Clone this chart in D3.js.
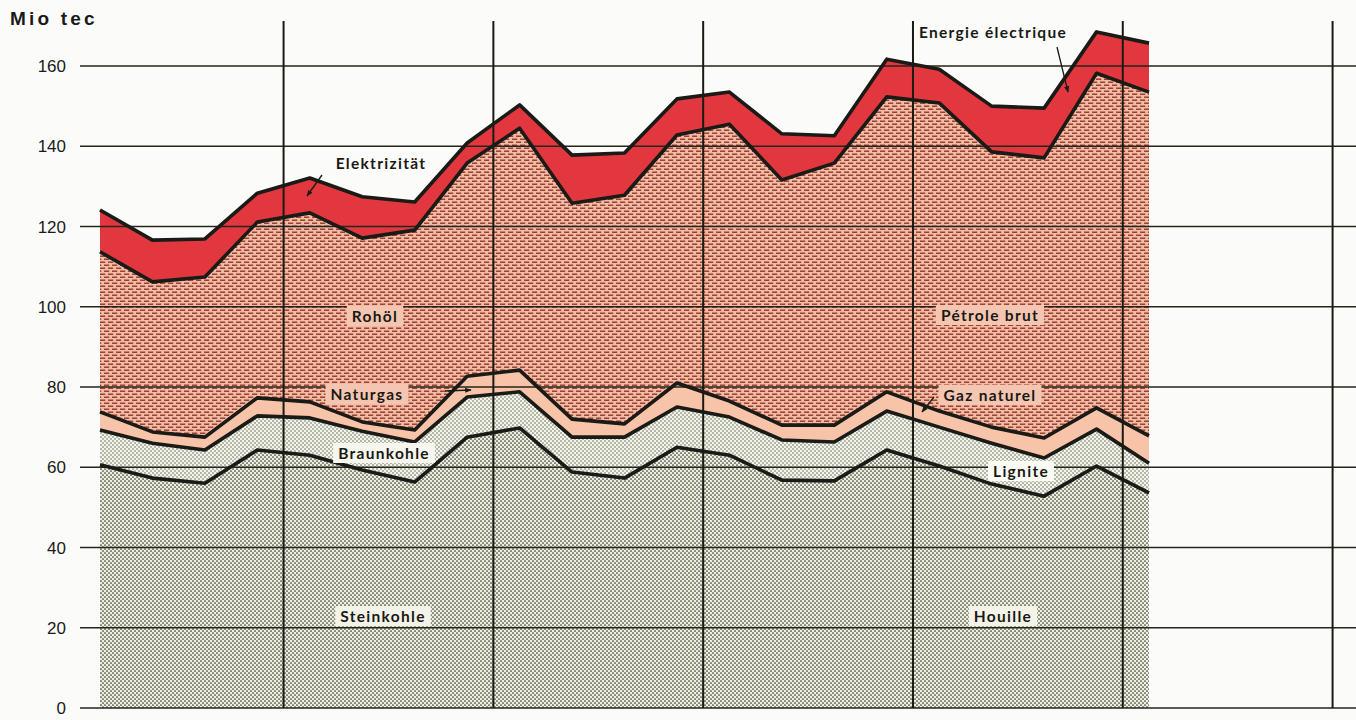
<!DOCTYPE html>
<html>
<head>
<meta charset="utf-8">
<script src="https://cdn.jsdelivr.net/npm/d3@7/dist/d3.min.js"></script>
<style>
  html, body { margin: 0; padding: 0; background: #fbfbfa; }
  svg { display: block; }
  .tick-label { font-family: "Liberation Sans", Arial, sans-serif; font-size: 17px; fill: #1a1a1a; }
  .lbl { font-family: Lato, "Open Sans", sans-serif; font-weight: 700; font-size: 15.5px; letter-spacing: 1.3px; fill: #1a1a14; }
</style>
</head>
<body>
<svg id="chart" width="1356" height="720"></svg>
<script>
// ---- data (Mio tec), quarterly values ----
const quarters = ["1-I","1-II","1-III","1-IV","2-I","2-II","2-III","2-IV","3-I","3-II","3-III","3-IV",
                  "4-I","4-II","4-III","4-IV","5-I","5-II","5-III","5-IV","6-I"];
const steinkohle    = [60.6,57.3,56.0,64.3,63.0,59.3,56.3,67.5,69.8,58.8,57.3,65.0,63.0,56.8,56.6,64.3,60.3,55.8,52.8,60.3,53.6];
const braunkohle    = [8.7,8.7,8.3,8.5,9.3,9.7,10.0,10.0,9.0,8.7,10.2,10.0,9.5,10.0,9.7,9.7,9.7,10.2,9.5,9.2,7.4];
const naturgas      = [4.5,2.8,3.2,4.5,4.0,2.3,3.0,5.2,5.4,4.5,3.3,6.0,4.0,3.7,4.2,4.8,4.0,4.0,5.0,5.3,6.8];
const rohoel        = [39.9,37.4,39.9,43.8,47.1,45.8,49.8,53.1,60.3,53.8,57.0,61.8,69.0,61.1,65.3,73.5,76.8,68.6,69.8,83.4,85.7];
const elektrizitaet = [10.4,10.4,9.5,7.2,8.7,10.3,7.0,5.0,5.8,12.0,10.5,9.0,8.0,11.5,6.8,9.4,8.4,11.4,12.4,10.3,12.2];
const yTicks = [0,20,40,60,80,100,120,140,160];
const yearBoundaries = [3.5,7.5,11.5,15.5,19.5,23.5];
const seriesKeys = ["steinkohle","braunkohle","naturgas","rohoel","elektrizitaet"];

const rows = quarters.map((q,i) => ({
  q, i,
  steinkohle: steinkohle[i], braunkohle: braunkohle[i], naturgas: naturgas[i],
  rohoel: rohoel[i], elektrizitaet: elektrizitaet[i]
}));

const svg = d3.select("#chart");
const x = d3.scaleLinear().domain([0, 20]).range([100, 1149]);
const y = d3.scaleLinear().domain([0, 160]).range([708, 66]);

// ---- patterns ----
const defs = svg.append("defs");
function dots(id, bg, fg, r) {
  const p = defs.append("pattern").attr("id", id).attr("patternUnits", "userSpaceOnUse")
    .attr("width", 4).attr("height", 4);
  p.append("rect").attr("width", 4).attr("height", 4).attr("fill", bg);
  p.append("circle").attr("cx", 1).attr("cy", 1).attr("r", r).attr("fill", fg);
  p.append("circle").attr("cx", 3).attr("cy", 3).attr("r", r).attr("fill", fg);
}
dots("pSteinkohle", "#eceee0", "#36362b", 0.85);
dots("pBraunkohle", "#f4f5ea", "#46463a", 0.68);
const brick = defs.append("pattern").attr("id", "pRohoel").attr("patternUnits", "userSpaceOnUse")
  .attr("width", 8).attr("height", 6);
brick.append("rect").attr("width", 8).attr("height", 6).attr("fill", "#f3bba5");
brick.append("rect").attr("x", 0).attr("y", 0.5).attr("width", 5.2).attr("height", 1.45).attr("fill", "#963e2e");
brick.append("rect").attr("x", 4).attr("y", 3.5).attr("width", 5.2).attr("height", 1.45).attr("fill", "#963e2e");
brick.append("rect").attr("x", -4).attr("y", 3.5).attr("width", 5.2).attr("height", 1.45).attr("fill", "#963e2e");

const fills = {
  steinkohle: "url(#pSteinkohle)",
  braunkohle: "url(#pBraunkohle)",
  naturgas: "#f7c3a9",
  rohoel: "url(#pRohoel)",
  elektrizitaet: "#e2373f"
};

const stack = d3.stack().keys(seriesKeys);
const layers = stack(rows);

const area = d3.area().x(d => x(d.data.i)).y0(d => y(d[0])).y1(d => y(d[1]));
svg.append("g").selectAll("path").data(layers).join("path")
  .attr("d", area).attr("fill", d => fills[d.key]);

// ---- grid ----
const grid = svg.append("g");
grid.selectAll("line.h").data(yTicks).join("line")
  .attr("x1", 80).attr("x2", 1356)
  .attr("y1", d => y(d)).attr("y2", d => y(d))
  .attr("stroke", "#25251a").attr("stroke-width", 1.5);
grid.selectAll("line.v").data(yearBoundaries).join("line")
  .attr("x1", d => x(d)).attr("x2", d => x(d))
  .attr("y1", 21).attr("y2", y(0))
  .attr("stroke", "#1a1a14").attr("stroke-width", 2);

// ---- boundary lines ----
const line = d3.line().x(d => x(d.data.i)).y(d => y(d[1]));
svg.append("g").selectAll("path").data(layers).join("path")
  .attr("d", line).attr("fill", "none").attr("stroke", "#1a1a16")
  .attr("stroke-width", 3.6).attr("stroke-linejoin", "round");

// ---- axis labels ----
svg.append("g").selectAll("text").data(yTicks).join("text")
  .attr("class", "tick-label").attr("x", 66).attr("y", d => y(d) + 6)
  .attr("text-anchor", "end").text(d => d);
svg.append("text").attr("x", 10).attr("y", 25)
  .attr("font-family", "Liberation Sans, Arial, sans-serif").attr("font-weight", 700)
  .attr("font-size", 19).attr("letter-spacing", 3.2).attr("fill", "#1a1a1a").text("Mio tec");

// ---- series labels ----
const labels = [
  {t: "Elektrizität", x: 381, y: 169, bg: null},
  {t: "Energie électrique", x: 993, y: 38, bg: null},
  {t: "Rohöl", x: 375, y: 322, bg: "#f4c6b2"},
  {t: "Pétrole brut", x: 990, y: 321, bg: "#f4c6b2"},
  {t: "Naturgas", x: 367, y: 400, bg: "#f4c6b2"},
  {t: "Gaz naturel", x: 990, y: 401, bg: "#f4c6b2"},
  {t: "Braunkohle", x: 384, y: 459, bg: "#f6f6ee"},
  {t: "Lignite", x: 1021, y: 477, bg: "#fbfbf6"},
  {t: "Steinkohle", x: 383, y: 622, bg: "#f3f3ea"},
  {t: "Houille", x: 1003, y: 622, bg: "#f3f3ea"}
];
const lg = svg.append("g");
labels.forEach(l => {
  const t = lg.append("text").attr("class", "lbl").attr("x", l.x).attr("y", l.y)
    .attr("text-anchor", "middle").text(l.t);
  if (l.bg) {
    const b = t.node().getBBox();
    lg.insert("rect", "text").attr("x", b.x - 5).attr("y", b.y - 1)
      .attr("width", b.width + 10).attr("height", b.height + 2).attr("fill", l.bg);
  }
});

// ---- arrows ----
const arrows = [
  [[322, 175], [307, 196]],
  [[1057, 47], [1068, 92]],
  [[445, 391], [471, 390]],
  [[934, 397], [922, 412]]
];
defs.append("marker").attr("id", "ah").attr("viewBox", "0 0 10 10").attr("refX", 9).attr("refY", 5)
  .attr("markerWidth", 5).attr("markerHeight", 5).attr("orient", "auto")
  .append("path").attr("d", "M0,1 L10,5 L0,9 Z").attr("fill", "#1a1a14");
svg.append("g").selectAll("line").data(arrows).join("line")
  .attr("x1", d => d[0][0]).attr("y1", d => d[0][1])
  .attr("x2", d => d[1][0]).attr("y2", d => d[1][1])
  .attr("stroke", "#1a1a14").attr("stroke-width", 1.3).attr("marker-end", "url(#ah)");
</script>
</body>
</html>
